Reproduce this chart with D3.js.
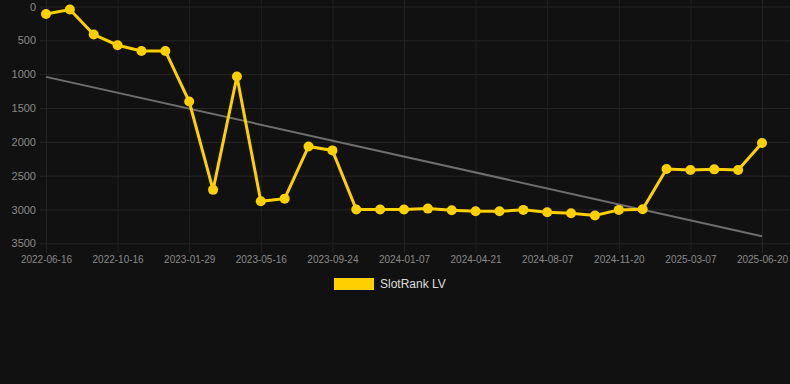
<!DOCTYPE html>
<html>
<head>
<meta charset="utf-8">
<script src="https://cdn.jsdelivr.net/npm/d3@7"></script>
<style>
    html, body { margin: 0; padding: 0; background: #111111; }
    svg { display: block; font-family: "Helvetica Neue", Helvetica, Arial, "Liberation Sans", sans-serif; }
</style>
</head>
<body>
<svg id="chart"></svg>
<script>
(function () {

    // one entry per ranking snapshot (only every third label is shown on the axis)
    var dates = [
        "2022-06-16", "2022-07-28", "2022-09-04", "2022-10-16", "2022-11-20", "2022-12-25",
        "2023-01-29", "2023-03-05", "2023-04-09", "2023-05-16", "2023-06-25", "2023-08-13",
        "2023-09-24", "2023-10-29", "2023-12-03", "2024-01-07", "2024-02-11", "2024-03-17",
        "2024-04-21", "2024-05-26", "2024-07-01", "2024-08-07", "2024-09-11", "2024-10-16",
        "2024-11-20", "2024-12-25", "2025-02-01", "2025-03-07", "2025-04-11", "2025-05-16",
        "2025-06-20"
    ];
    var ranks = [
        110, 45, 415, 572, 657, 657,
        1404, 2710, 1035, 2879, 2840, 2068,
        2127, 3000, 3000, 3000, 2987, 3012,
        3027, 3027, 3006, 3041, 3056, 3090,
        3006, 2997, 2401, 2416, 2407, 2416,
        2018
    ];
    // trend line, read at the first and last date
    var trendDates = ["2022-06-16", "2025-06-20"];
    var trendValues = [1040, 3395];
    var yTicks = [0, 500, 1000, 1500, 2000, 2500, 3000, 3500];
    var seriesName = "SlotRank LV";

    var width = 790;
    var height = 384;
    var plotLeft = 46;
    var plotRight = 762;
    var plotTop = 6.5;
    var plotBottom = 243.3;
    var gridLeft = 40;
    var axisY = 253;
    var yellow = "#ffd000";
    var fontFamily = "\"Helvetica Neue\", Helvetica, Arial, \"Liberation Sans\", sans-serif";

    var svg = d3.select("#chart")
        .attr("width", width)
        .attr("height", height);

    var xScale = d3.scalePoint()
        .domain(dates)
        .range([plotLeft, plotRight]);

    var yScale = d3.scaleLinear()
        .domain([0, 3500])
        .range([plotTop, plotBottom]);

    // horizontal grid + y labels
    var yAxis = d3.axisLeft(yScale)
        .tickValues(yTicks)
        .tickFormat(d3.format("d"))
        .tickSize(-(width - gridLeft))
        .tickPadding(4);
    var yG = svg.append("g")
        .attr("transform", "translate(" + gridLeft + ",0)")
        .call(yAxis)
        .attr("font-family", fontFamily)
        .attr("font-size", 11);
    yG.select(".domain").remove();
    yG.selectAll(".tick line").attr("stroke", "#262626").attr("stroke-width", 1);
    yG.selectAll(".tick text").attr("fill", "#8a8a8a");

    // vertical grid + x labels
    var xAxis = d3.axisBottom(xScale)
        .tickValues(dates.filter((d, i) => i % 3 === 0))
        .tickSize(-axisY)
        .tickPadding(3);
    var xG = svg.append("g")
        .attr("transform", "translate(0," + axisY + ")")
        .call(xAxis)
        .attr("font-family", fontFamily)
        .attr("font-size", 10);
    xG.select(".domain").remove();
    xG.selectAll(".tick line").attr("stroke", "#222222").attr("stroke-width", 1);
    xG.selectAll(".tick text").attr("fill", "#8a8a8a");

    // trend
    var trendData = trendDates.map((d, i) => ({ date: d, value: trendValues[i] }));
    svg.append("path")
        .datum(trendData)
        .attr("fill", "none")
        .attr("stroke", "#6e6e6e")
        .attr("stroke-width", 2)
        .attr("d", d3.line()
            .x(d => xScale(d.date))
            .y(d => yScale(d.value)));

    // rank series
    var series = dates.map((d, i) => ({ date: d, value: ranks[i] }));
    svg.append("path")
        .datum(series)
        .attr("fill", "none")
        .attr("stroke", yellow)
        .attr("stroke-width", 3)
        .attr("stroke-linejoin", "miter")
        .attr("d", d3.line()
            .x(d => xScale(d.date))
            .y(d => yScale(d.value)));

    svg.selectAll("circle.pt")
        .data(series)
        .enter()
        .append("circle")
        .attr("class", "pt")
        .attr("cx", d => xScale(d.date))
        .attr("cy", d => yScale(d.value))
        .attr("r", 5)
        .attr("fill", yellow);

    // legend
    var legend = svg.append("g")
        .attr("transform", "translate(334,278)");
    legend.append("rect")
        .attr("width", 40)
        .attr("height", 12)
        .attr("fill", yellow);
    legend.append("text")
        .attr("x", 46)
        .attr("y", 6)
        .attr("dominant-baseline", "central")
        .attr("fill", "#dddddd")
        .style("font-size", "12px")
        .text(seriesName);

})();
</script>
</body>
</html>
